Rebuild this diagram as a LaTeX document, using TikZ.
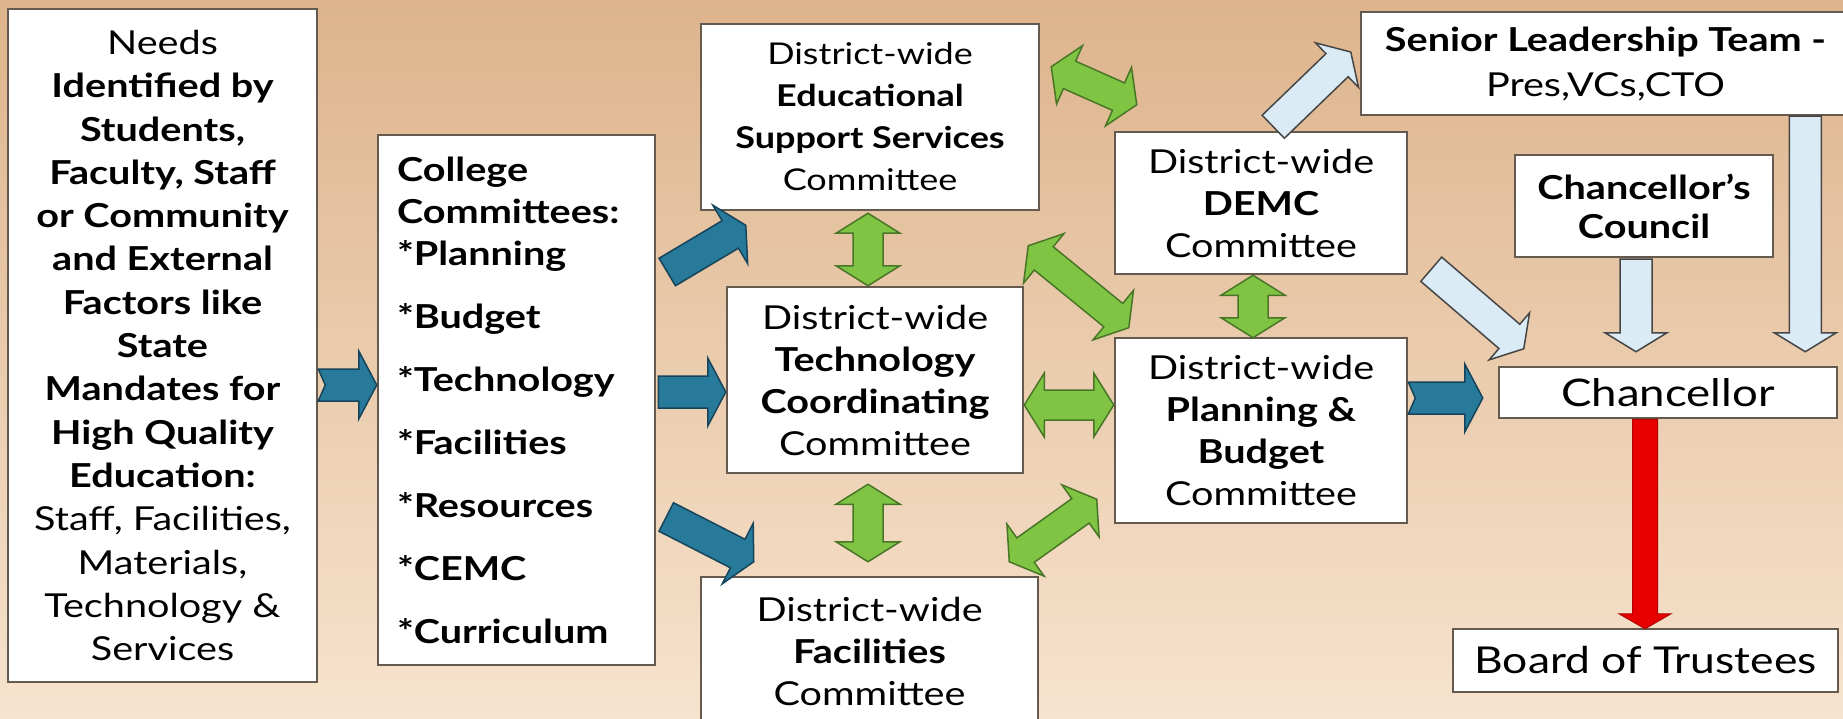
\documentclass[tikz,border=0pt]{standalone}
\usepackage{fontspec}
\setmainfont{Lato}[FakeStretch=1.2]
\usetikzlibrary{calc}

\definecolor{bgtop}{RGB}{221,180,140}
\definecolor{bgbot}{RGB}{247,227,206}
\definecolor{boxline}{RGB}{100,90,80}
\definecolor{tealfill}{RGB}{40,122,155}
\definecolor{tealline}{RGB}{22,68,90}
\definecolor{greenfill}{RGB}{128,196,68}
\definecolor{greenline}{RGB}{72,118,38}
\definecolor{icefill}{RGB}{218,235,246}
\definecolor{iceline}{RGB}{70,70,70}
\definecolor{redfill}{RGB}{232,0,0}

\begin{document}
\begin{tikzpicture}[x=1pt,y=-1pt,
    box/.style={draw=boxline, line width=2.5pt, fill=white, inner sep=0pt, align=center,
      font=\fontsize{33}{42}\selectfont},
    fat/.style n args={3}{to path={let \p1=(\tikztostart), \p2=(\tikztotarget),
      \p3=($(\p2)!#3!(\p1)$) in
      ($(\p1)!#1!90:(\p2)$) -- ($(\p3)!#1!90:(\p2)$) -- ($(\p3)!#2!90:(\p2)$) -- (\p2)
      -- ($(\p3)!#2!-90:(\p2)$) -- ($(\p3)!#1!-90:(\p2)$) -- ($(\p1)!#1!-90:(\p2)$) -- cycle}},
    notched/.style n args={4}{to path={let \p1=(\tikztostart), \p2=(\tikztotarget),
      \p3=($(\p2)!#3!(\p1)$) in
      ($(\p1)!#1!90:(\p2)$) -- ($(\p3)!#1!90:(\p2)$) -- ($(\p3)!#2!90:(\p2)$) -- (\p2)
      -- ($(\p3)!#2!-90:(\p2)$) -- ($(\p3)!#1!-90:(\p2)$) -- ($(\p1)!#1!-90:(\p2)$)
      -- ($(\p1)!#4!(\p2)$) -- cycle}},
    fat double/.style n args={3}{to path={let \p1=(\tikztostart), \p2=(\tikztotarget),
      \p3=($(\p2)!#3!(\p1)$), \p4=($(\p1)!#3!(\p2)$) in
      (\p1) -- ($(\p4)!#2!90:(\p2)$) -- ($(\p4)!#1!90:(\p2)$) -- ($(\p3)!#1!90:(\p2)$)
      -- ($(\p3)!#2!90:(\p2)$) -- (\p2) -- ($(\p3)!#2!-90:(\p2)$) -- ($(\p3)!#1!-90:(\p2)$)
      -- ($(\p4)!#1!-90:(\p2)$) -- ($(\p4)!#2!-90:(\p2)$) -- cycle}},
    teal arrow/.style={draw=tealline, fill=tealfill, line width=1.5pt, fat={16pt}{34pt}{18pt}},
    teal notched/.style={draw=tealline, fill=tealfill, line width=1.5pt, notched={16pt}{34pt}{18pt}{7pt}},
    green arrow/.style={draw=greenline, fill=greenfill, line width=1.5pt, fat double={15pt}{32pt}{20pt}},
    ice arrow/.style={draw=iceline, fill=icefill, line width=1.5pt, fat={16pt}{31pt}{19pt}},
    red arrow/.style={draw=red!70!black, fill=redfill, line width=1pt, fat={12.5pt}{26pt}{15pt}}]

  % Fondo
  \useasboundingbox (0,0) rectangle (1843,719);
  \clip (0,0) rectangle (1843,719);
  \fill[top color=bgtop, bottom color=bgbot] (0,0) rectangle (1843,719);

  % Cajas
  \node[box, minimum width=309pt, minimum height=673pt, font=\fontsize{33}{43.3}\selectfont]
    (needs) at (162.5,345.5) {Needs\\ \textbf{Identified by}\\ \textbf{Students,}\\
    \textbf{Faculty, Staff}\\ \textbf{or Community}\\ \textbf{and External}\\
    \textbf{Factors like}\\ \textbf{State}\\ \textbf{Mandates for}\\ \textbf{High Quality}\\
    \textbf{Education:}\\ Staff, Facilities,\\ Materials,\\ Technology \&\\ Services};
  \node[box, minimum width=277pt, minimum height=530pt, text width=239pt, align=left,
    font=\bfseries\fontsize{33}{42}\selectfont] (college) at (516.5,400)
    {College\\ Committees:\\ {*}Planning\\[21pt] {*}Budget\\[21pt] {*}Technology\\[21pt]
    {*}Facilities\\[21pt] {*}Resources\\[21pt] {*}CEMC\\[21pt] {*}Curriculum};
  \node[box, minimum width=338pt, minimum height=186pt, font=\fontsize{30}{42}\selectfont]
    (edu) at (870,117) {District-wide\\ \textbf{Educational}\\ \textbf{Support Services}\\ Committee};
  \node[box, minimum width=296pt, minimum height=186pt] (tech) at (875,380)
    {District-wide\\ \textbf{Technology}\\ \textbf{Coordinating}\\ Committee};
  \node[box, minimum width=337pt, minimum height=148pt] (fac) at (869.5,651)
    {District-wide\\ \textbf{Facilities}\\ Committee};
  \node[box, minimum width=292pt, minimum height=142pt] (demc) at (1261,203)
    {District-wide\\ \textbf{DEMC}\\ Committee};
  \node[box, minimum width=292pt, minimum height=185pt] (pb) at (1261,430.5)
    {District-wide\\ \textbf{Planning \&}\\ \textbf{Budget}\\ Committee};
  \node[box, minimum width=489pt, minimum height=103pt, font=\fontsize{33}{45}\selectfont]
    (senior) at (1605.5,63.5) {\textbf{Senior Leadership Team -}\\ Pres,VCs,CTO};
  \node[box, minimum width=258pt, minimum height=102pt, font=\bfseries\fontsize{33}{39}\selectfont]
    (council) at (1644,206) {Chancellor’s\\ Council};
  \node[box, minimum width=338pt, minimum height=51pt, font=\fontsize{38}{42}\selectfont]
    (chanc) at (1668,392.5) {Chancellor};
  \node[box, minimum width=385pt, minimum height=63pt, font=\fontsize{37}{42}\selectfont]
    (board) at (1645.5,660.5) {Board of Trustees};

  % Flechas azules
  \draw[teal notched] ($(needs.east)+(0,39.5)$) to ($(college.west)+(0,-15)$);
  \draw[teal arrow] ($(college.east)+(11,-128)$) to ($(edu.south west)+(46,14)$);
  \draw[teal arrow] ($(college.east)+(2,-8)$) to ($(tech.west)+(0,12)$);
  \draw[teal arrow] ($(college.east)+(10,117)$) to ($(fac.north west)+(54,-14)$);
  \draw[teal notched] ($(pb.east)+(0,-32.5)$) to ($(chanc.west)+(-15,5.5)$);

  % Flechas verdes
  \draw[green arrow] ($(edu.south)+(-2,2)$) to ($(tech.north)+(-7,0)$);
  \draw[green arrow] ($(tech.south)+(-7,10)$) to ($(fac.north)+(-1.5,-14)$);
  \draw[green arrow] ($(edu.north east)+(11,44)$) to ($(demc.north west)+(23,-26)$);
  \draw[green arrow] ($(tech.north east)+(4,-40)$) to ($(pb.north west)+(15,-9)$);
  \draw[green arrow] ($(tech.east)+(0,25)$) to ($(pb.west)+(0,-25.5)$);
  \draw[green arrow] ($(fac.north east)+(-30,-14)$) to ($(pb.south west)+(-17,-25)$);
  \draw[green arrow] ($(demc.south)+(-8,0)$) to ($(pb.north)+(-8,1)$);

  % Flechas claras
  \draw[ice arrow] ($(demc.north east)+(-135,-4)$) to ($(senior.west)+(-9,-11.5)$);
  \draw[ice arrow] ($(demc.south east)+(23,-6)$) to ($(chanc.north west)+(26,-17)$);
  \draw[ice arrow] ($(council.south)+(-8,1)$) to ($(chanc.north)+(-32,-14)$);
  \draw[ice arrow] ($(senior.south east)+(-46,0)$) to ($(chanc.north east)+(-33,-14)$);

  % Flecha roja
  \draw[red arrow] ($(chanc.south)+(-23,0)$) to ($(board.north)+(-0.5,1)$);
\end{tikzpicture}
\end{document}
